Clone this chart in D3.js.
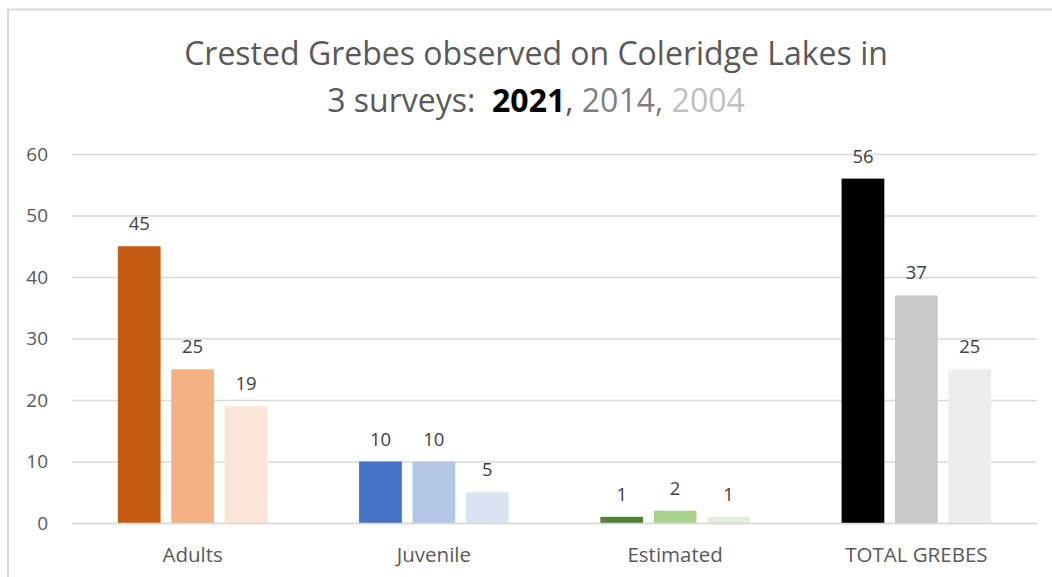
<!DOCTYPE html>
<html lang="en">
<head>
    <meta charset="UTF-8">
    <script src="https://d3js.org/d3.v7.min.js"></script>
    <style>
        body { margin: 0; background: #fff; font-family: "Open Sans", "Noto Sans", sans-serif; }
        svg text { fill: #595959; }
    </style>
</head>
<body>
    <svg id="chart" width="1052" height="577"></svg>
    <script>
        // data
        const categories = ["Adults", "Juvenile", "Estimated", "TOTAL GREBES"];
        const surveys = ["2021", "2014", "2004"];
        const values2021 = [45, 10, 1, 56];
        const values2014 = [25, 10, 2, 37];
        const values2004 = [19, 5, 1, 25];
        const yTicks = [0, 10, 20, 30, 40, 50, 60];
        // one shade per category, dark -> light for 2021, 2014, 2004
        const palette = [
            ["#C55A11", "#F4B183", "#FBE5D6"],
            ["#4472C4", "#B4C7E7", "#DAE3F3"],
            ["#548235", "#A9D18E", "#E2F0D9"],
            ["#000000", "#C8C8C8", "#EDEDED"]
        ];

        const seriesValues = [values2021, values2014, values2004];
        const rows = [];
        categories.forEach((cat, ci) => {
            surveys.forEach((s, si) => {
                rows.push({ cat, survey: s, ci, si, value: seriesValues[si][ci] });
            });
        });

        const svg = d3.select("#chart");
        const margin = { top: 154, right: 15, bottom: 54, left: 72 };
        const width = 1052 - margin.left - margin.right;
        const height = 577 - margin.top - margin.bottom;

        // chart frame
        svg.append("path")
            .attr("d", "M8,577 V9.5 H1052")
            .attr("fill", "none")
            .attr("stroke", "#D9D9D9")
            .attr("stroke-width", 2);

        // title
        const title = svg.append("text")
            .attr("x", 536)
            .attr("text-anchor", "middle")
            .attr("xml:space", "preserve")
            .style("white-space", "pre")
            .style("font-size", "32px");
        title.append("tspan").attr("x", 536).attr("y", 65).text("Crested Grebes observed on Coleridge Lakes in");
        const l2 = title.append("tspan").attr("x", 536).attr("y", 112);
        l2.append("tspan").text("3 surveys:  ");
        l2.append("tspan").style("font-weight", "bold").style("fill", "#000").text("2021");
        l2.append("tspan").text(", ");
        l2.append("tspan").style("fill", "#7F7F7F").text("2014, ");
        l2.append("tspan").style("fill", "#BFBFBF").text("2004");

        const x = d3.scaleBand()
            .domain(categories)
            .range([0, width])
            .paddingInner(0)
            .paddingOuter(0);

        const x1 = d3.scaleBand()
            .domain(surveys)
            .range([x.bandwidth() * 0.19, x.bandwidth() * 0.81])
            .paddingInner(0.2);

        const y = d3.scaleLinear().domain([0, 60]).range([height, 0]);

        const g = svg.append("g").attr("transform", `translate(${margin.left},${margin.top})`);

        // gridlines
        g.append("g")
            .call(d3.axisLeft(y).tickValues(yTicks).tickSize(-width).tickFormat(""))
            .call(a => a.select(".domain").remove())
            .selectAll("line")
            .attr("stroke", "#D9D9D9")
            .attr("stroke-width", 1.5);

        // y labels
        g.append("g")
            .call(d3.axisLeft(y).tickValues(yTicks).tickSize(0).tickPadding(24))
            .call(a => a.select(".domain").remove())
            .selectAll("text")
            .style("font-size", "19px")
            .style("font-family", "'Open Sans', sans-serif")
            .attr("fill", "#595959");

        // bars
        g.selectAll(".bar")
            .data(rows)
            .enter()
            .append("rect")
            .attr("class", "bar")
            .attr("x", d => x(d.cat) + x1(d.survey))
            .attr("y", d => y(d.value))
            .attr("width", x1.bandwidth())
            .attr("height", d => height - y(d.value))
            .attr("fill", d => palette[d.ci][d.si]);

        // value labels
        g.selectAll(".label")
            .data(rows)
            .enter()
            .append("text")
            .attr("class", "label")
            .attr("x", d => x(d.cat) + x1(d.survey) + x1.bandwidth() / 2)
            .attr("y", d => y(d.value) - 16)
            .attr("text-anchor", "middle")
            .style("font-size", "18.5px")
            .style("fill", "#404040")
            .text(d => d.value);

        // x axis
        g.append("g")
            .attr("transform", `translate(0,${height})`)
            .call(d3.axisBottom(x).tickSize(0).tickPadding(24))
            .call(a => a.select(".domain").attr("stroke", "#D9D9D9").attr("stroke-width", 1.5))
            .selectAll("text")
            .style("font-size", "20.5px")
            .style("font-family", "'Open Sans', sans-serif")
            .attr("fill", "#595959");
    </script>
</body>
</html>
